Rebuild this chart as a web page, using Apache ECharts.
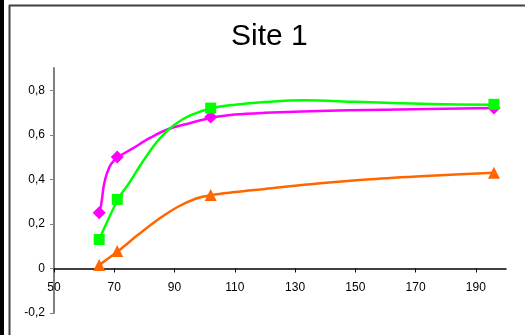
<!DOCTYPE html>
<html>
<head>
<meta charset="utf-8">
<script src="https://cdn.jsdelivr.net/npm/echarts@6/dist/echarts.min.js"></script>
<style>html,body{margin:0;padding:0;background:#fff;}#c{width:525px;height:335px;}</style>
</head>
<body>
<div id="c"></div>
<script>
var titleText = 'Site 1';
var xTicks = [50, 70, 90, 110, 130, 150, 170, 190];
var yTicks = [-0.2, 0, 0.2, 0.4, 0.6, 0.8];

// measured points (markers)
var markerX = [65, 71, 102, 196];
var magentaY = [0.25, 0.50, 0.68, 0.72];
var greenY = [0.13, 0.31, 0.72, 0.737];
var orangeY = [0.015, 0.078, 0.33, 0.43];

// fitted curves
var magentaCurveX = [65, 65.7, 66.5, 67.5, 69, 71.3, 76, 82, 88, 95, 102.3, 110, 120, 135, 160, 196];
var magentaCurveY = [0.25, 0.29, 0.37, 0.425, 0.47, 0.5, 0.538, 0.587, 0.626, 0.652, 0.677, 0.691, 0.699, 0.706, 0.713, 0.72];
var greenCurveX = [65, 71.3, 75, 78.5, 82, 85.5, 90, 95, 102.3, 110, 120, 133, 150, 175, 196];
var greenCurveY = [0.13, 0.312, 0.385, 0.46, 0.53, 0.59, 0.645, 0.686, 0.719, 0.735, 0.747, 0.755, 0.748, 0.738, 0.735];
var orangeCurveX = [65, 71.3, 78, 85, 91, 97, 102.3, 110, 120, 135, 155, 175, 196];
var orangeCurveY = [0.015, 0.078, 0.152, 0.224, 0.276, 0.313, 0.33, 0.343, 0.357, 0.378, 0.4, 0.416, 0.43];

function zip(a, b) { return a.map(function (v, i) { return [v, b[i]]; }); }

var chart = echarts.init(document.getElementById('c'), null, { renderer: 'canvas' });
var font = 'Liberation Sans, Arial, sans-serif';
var yMin = -0.2, yMax = 0.9, gridTop = 68, gridBottom = 22;
var zeroOffset = -(335 - gridTop - gridBottom) * (0 - yMin) / (yMax - yMin);

function curve(x, y, color) {
  return { type: 'line', data: zip(x, y), showSymbol: false, symbol: 'none', smooth: 0.35,
    lineStyle: { color: color, width: 2.5, join: 'round', cap: 'round' }, silent: true, z: 2 };
}
function marks(y, color, symbol, size) {
  return { type: 'scatter', data: zip(markerX, y), symbol: symbol, symbolSize: size,
    itemStyle: { color: color, opacity: 1 }, silent: true, z: 3 };
}

chart.setOption({
  animation: false,
  backgroundColor: '#fff',
  title: { text: titleText, left: 231, top: 22, padding: 0,
    textStyle: { fontFamily: font, fontSize: 30, fontWeight: 'normal', color: '#000' } },
  grid: { left: 54, right: 19, top: gridTop, bottom: gridBottom, containLabel: false },
  xAxis: {
    type: 'value', min: 50, max: 200, position: 'bottom', offset: zeroOffset,
    axisLine: { onZero: false, lineStyle: { color: '#000', width: 1.5 } },
    axisTick: { show: true, length: 4, customValues: xTicks, lineStyle: { color: '#000', width: 1 } },
    axisLabel: { customValues: xTicks, margin: 13, fontFamily: font, fontSize: 12, color: '#000' },
    splitLine: { show: false }
  },
  yAxis: {
    type: 'value', min: yMin, max: yMax,
    axisLine: { show: true, lineStyle: { color: '#808080', width: 2 } },
    axisTick: { show: true, length: 4, customValues: yTicks, lineStyle: { color: '#808080', width: 1 } },
    axisLabel: { customValues: yTicks, margin: 9, fontFamily: font, fontSize: 12, color: '#000',
      formatter: function (v) { return String(+(+v).toFixed(1)).replace('.', ','); } },
    splitLine: { show: false }
  },
  graphic: [
    { type: 'rect', shape: { x: 0, y: 0, width: 4, height: 335 }, style: { fill: '#000' }, silent: true },
    { type: 'line', shape: { x1: 9.5, y1: 5, x2: 9.5, y2: 335 }, style: { stroke: '#404040', lineWidth: 2 }, silent: true },
    { type: 'line', shape: { x1: 9, y1: 5.5, x2: 525, y2: 5.5 }, style: { stroke: '#404040', lineWidth: 2 }, silent: true }
  ],
  series: [
    curve(magentaCurveX, magentaCurveY, '#FF00FF'),
    curve(greenCurveX, greenCurveY, '#00FF00'),
    curve(orangeCurveX, orangeCurveY, '#FF6600'),
    marks(magentaY, '#FF00FF', 'diamond', 13),
    marks(greenY, '#00FF00', 'rect', 11),
    marks(orangeY, '#FF6600', 'triangle', 12)
  ]
});
</script>
</body>
</html>
